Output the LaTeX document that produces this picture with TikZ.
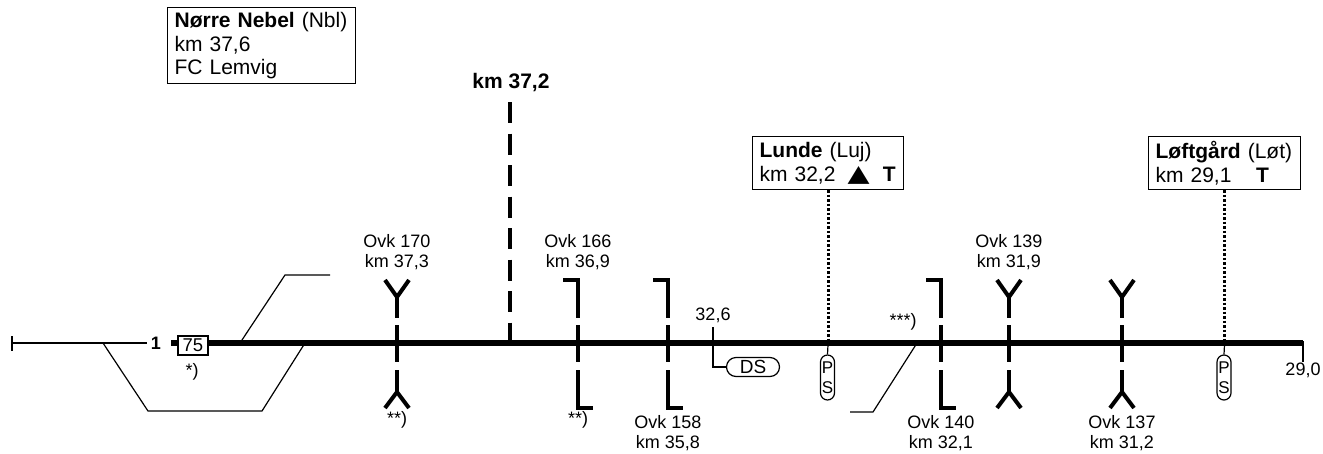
\documentclass[tikz,border=0pt]{standalone}
\usepackage{fontspec}
\usepackage{graphicx}
\setmainfont{Liberation Sans}
\newfontfamily\symfont{DejaVu Sans}
\usetikzlibrary{shapes.misc}
\tikzset{
  thinline/.style={line width=1.2pt},
  trackline/.style={line width=5.5pt},
  symline/.style={line width=4pt, line join=miter},
  lbl/.style={font=\fontsize{18}{20.5}\selectfont, align=center, inner sep=0pt},
  stationbox/.style={draw, line width=1.2pt, align=left, anchor=north west, inner xsep=7pt, inner ysep=0pt, font=\fontsize{21}{23.5}\selectfont},
  dotline/.style={line width=3pt, dash pattern=on 2.6pt off 1.9pt},
  ysym/.pic={
    \draw[symline] (-12,280) -- (0,297) -- (12,280);
    \draw[symline] (0,297) -- (0,318);
    \draw[symline] (0,325) -- (0,362);
    \draw[symline] (0,370) -- (0,392);
    \draw[symline] (-12,408) -- (0,392) -- (12,408);
  },
  lsym/.pic={
    \draw[symline] (-15,280) -- (0,280) -- (0,318);
    \draw[symline] (0,325) -- (0,362);
    \draw[symline] (0,370) -- (0,408) -- (15,408);
  },
  psbox/.style={draw, line width=1.2pt, rounded corners=7pt, minimum width=14pt, minimum height=45pt, inner sep=0pt, align=center, font=\fontsize{17}{20}\selectfont},
}
\begin{document}
\begin{tikzpicture}[x=1pt,y=-1pt]
\useasboundingbox (0,0) rectangle (1323,453);

% station boxes
\node[stationbox, text width=174pt, minimum height=76pt] (nbl) at (167,7)
  {\textbf{Nørre Nebel} (Nbl)\\km 37,6\\FC Lemvig};
\node[stationbox, text width=137pt, minimum height=53pt] (luj) at (752,136)
  {\textbf{Lunde} (Luj)\\\makebox[88pt][l]{km 32,2}\makebox[22pt]{\resizebox{22pt}{15pt}{\symfont ▲}}\makebox[26pt][r]{\textbf{T}}};
\node[stationbox, text width=138pt, minimum height=53pt] (lot) at (1148,136)
  {\textbf{Løftgård} (Løt)\\\makebox[97pt][l]{km 29,1}\makebox[20pt]{\textbf{T}}};

% left end
\coordinate (lend) at (12,343);
\draw[thinline] (12,336) -- (12,351);
\node[font=\bfseries\fontsize{18}{20}\selectfont, inner sep=0pt] (one) at (156,343) {1};
\draw[thinline] (lend) -- (147,343);
\node[draw, thinline, minimum width=30pt, minimum height=19pt, inner sep=0pt, font=\fontsize{18.5}{20}\selectfont] (sig75) at (193,345.5) {75};
\draw[line width=5.5pt] (171,343) -- (sig75.west |- lend);
\node[lbl] (star1) at (192,372) {*)};

% side tracks
\draw[thinline] (103,343) -- (148,411) -- (262,411) -- (305,343);
\draw[thinline] (240,343) -- (285,275) -- (330,275);
\draw[thinline] (917,343) -- (873,412) -- (850,412);

% main track
\coordinate (tend) at (1303,343);
\draw[trackline] (sig75.east |- tend) -- (tend);
\draw[thinline] (1303,341) -- (1303,362);
\node[lbl] (km290) at (1303,370) {29,0};

% km 37,2
\node[font=\bfseries\fontsize{21}{23}\selectfont, inner sep=0pt] (k372) at (511,83) {km 37,2};
\coordinate (k372top) at (510,102);
\draw[line width=4pt, dash pattern=on 21pt off 10.5pt] (k372top) -- (k372top |- tend);

% level crossings
\pic at (397,0) {ysym};
\node[lbl] (o170) at (397,252) {Ovk 170\\km 37,3};
\node[lbl] (s170) at (397,420) {**)};
\pic at (578,0) {lsym};
\node[lbl] (o166) at (578,252) {Ovk 166\\km 36,9};
\node[lbl] (s166) at (578,420) {**)};
\pic at (668,0) {lsym};
\node[lbl] (o158) at (668,433) {Ovk 158\\km 35,8};
\pic at (941,0) {lsym};
\node[lbl] (o140) at (941,433) {Ovk 140\\km 32,1};
\node[lbl] (s140) at (903,322) {***)};
\pic at (1009,0) {ysym};
\node[lbl] (o139) at (1009,252) {Ovk 139\\km 31,9};
\pic at (1122,0) {ysym};
\node[lbl] (o137) at (1122,433) {Ovk 137\\km 31,2};

% DS
\node[lbl] (k326) at (713,315) {32,6};
\node[draw, thinline, rounded rectangle, minimum width=53pt, minimum height=19pt, inner sep=0pt, font=\fontsize{19}{20}\selectfont] (ds) at (753,367) {DS};
\draw[thinline] (713,327) -- (713,367) -- (ds.west);

% PS
\node[psbox] (ps1) at (827.5,377.5) {P\\S};
\draw[dotline] (luj.south) -- (luj.south |- tend);
\draw[thinline] (luj.south |- tend) -- (ps1.north);
\node[psbox] (ps2) at (1224,377.5) {P\\S};
\draw[dotline] (lot.south) -- (lot.south |- tend);
\draw[thinline] (lot.south |- tend) -- (ps2.north);
\end{tikzpicture}
\end{document}
